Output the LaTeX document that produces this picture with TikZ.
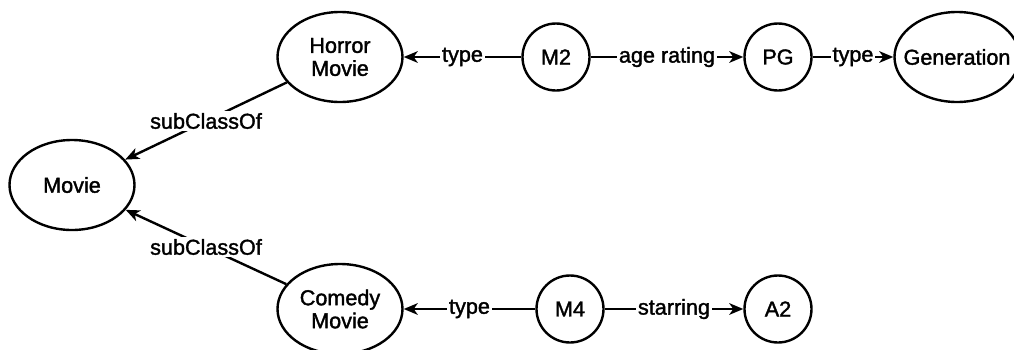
\documentclass[tikz,border=0pt]{standalone}
\usepackage{fontspec}
\setmainfont{Liberation Sans}[FakeBold=1.6]
\usetikzlibrary{arrows.meta, shapes.geometric}

\begin{document}
\begin{tikzpicture}[x=0.5pt, y=-0.5pt, >={Stealth[length=7pt, width=5.8pt, inset=2pt]},
    every node/.style={font=\fontsize{10.8}{11.5}\selectfont},
    class/.style={ellipse, draw, line width=1.2pt, minimum width=62.5pt, minimum height=45pt, inner sep=0pt, align=center},
    inst/.style={circle, draw, line width=1.2pt, minimum size=33.5pt, inner sep=0pt},
    rel/.style={fill=white, inner sep=1pt},
    link/.style={->, line width=1.2pt},
]
\useasboundingbox (0,0) rectangle (1014,349);
\clip (0,0) rectangle (1014,349);

% Classes
\node[class] (movie) at (72,185) {Movie};
\node[class] (horror) at (340,57) {Horror\\Movie};
\node[class] (comedy) at (340,309) {Comedy\\Movie};
\node[class, inner xsep=-5pt] (gen) at (957,57) {Generation};

% Instances
\node[inst] (m2) at (556,57) {M2};
\node[inst] (pg) at (778,57) {PG};
\node[inst] (m4) at (570,309) {M4};
\node[inst] (a2) at (778,309) {A2};

% Relations
\draw[link] (horror) -- node[rel] {subClassOf} (movie);
\draw[link] (comedy) -- node[rel] {subClassOf} (movie);

\draw[link] (m2) -- node[rel] {type} (horror);
\draw[link] (m2) -- node[rel] {age rating} (pg);
\draw[link] (pg) -- node[rel] {type} (gen);

\draw[link] (m4) -- node[rel] {type} (comedy);
\draw[link] (m4) -- node[rel] {starring} (a2);

\end{tikzpicture}
\end{document}
